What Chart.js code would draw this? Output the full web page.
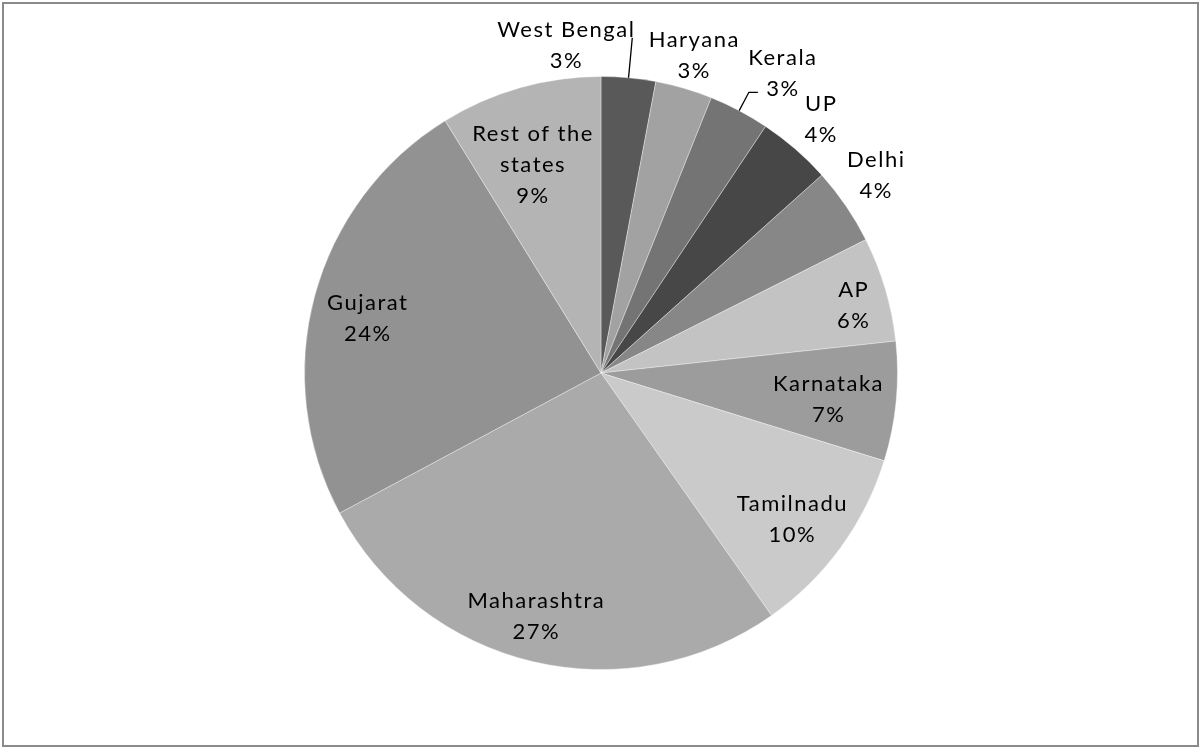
<!DOCTYPE html>
<html>
<head>
<meta charset="utf-8">
<script src="https://cdn.jsdelivr.net/npm/chart.js@4"></script>
<style>
  html, body { margin: 0; padding: 0; background: #fff; }
  #wrap { width: 1200px; height: 747px; }
</style>
</head>
<body>
<div id="wrap"><canvas id="pie" width="1200" height="747"></canvas></div>
<script>
// data (share of total, clockwise from 12 o'clock)
const states = ['West Bengal', 'Haryana', 'Kerala', 'UP', 'Delhi', 'AP', 'Karnataka', 'Tamilnadu', 'Maharashtra', 'Gujarat', 'Rest of the states'];
const shares = [2.96, 3.1, 3.3, 4.0, 4.2, 5.7, 6.5, 10.45, 26.9, 24.0, 8.8];

// label lines as shown (Rest of the states wraps onto two lines)
const labelLines = [['West Bengal'], ['Haryana'], ['Kerala'], ['UP'], ['Delhi'], ['AP'], ['Karnataka'], ['Tamilnadu'], ['Maharashtra'], ['Gujarat'], ['Rest of the', 'states']];

// styling
const sliceColors = ['#595959', '#a2a2a2', '#747474', '#474747', '#878787', '#c3c3c3', '#9c9c9c', '#cacaca', '#aaaaaa', '#929292', '#b4b4b4'];
const labelRadius = [1.112, 1.115, 1.18, 1.13, 1.14, 0.88, 0.77, 0.81, 0.85, 0.81, 0.74];
const labelTurn = [-11.5, 0, 3.4, 0, -1.4, 1.4, 1, 1.4, 1.7, -2, -2.4]; // degrees
const leaderLen = [1.135, 0, 1.07, 0, 0, 0, 0, 0, 0, 0, 0];
const FONT = '22px Lato, "Open Sans", sans-serif';
const SPACING = 1.5;
const LINE_H = 31;

const total = shares.reduce((a, b) => a + b, 0);

const frame = {
    id: 'frame',
    beforeDraw(chart) {
        const ctx = chart.ctx;
        ctx.save();
        ctx.fillStyle = '#fff';
        ctx.fillRect(0, 0, chart.width, chart.height);
        ctx.strokeStyle = '#8a8a8a';
        ctx.lineWidth = 2;
        ctx.strokeRect(3, 3, chart.width - 5, chart.height - 4);
        ctx.restore();
    }
};

const sliceLabels = {
    id: 'sliceLabels',
    afterDatasetsDraw(chart) {
        const ctx = chart.ctx;
        const arcs = chart.getDatasetMeta(0).data;
        ctx.save();
        ctx.font = FONT;
        ctx.letterSpacing = SPACING + 'px';
        ctx.fillStyle = '#000';
        ctx.textAlign = 'center';
        ctx.textBaseline = 'middle';
        arcs.forEach((arc, i) => {
            const r = arc.outerRadius;
            const mid = (arc.startAngle + arc.endAngle) / 2;
            const a = mid + labelTurn[i] * Math.PI / 180;
            const cx = arc.x + Math.cos(a) * r * labelRadius[i];
            const cy = arc.y + Math.sin(a) * r * labelRadius[i];
            const pct = Math.round(shares[i] / total * 100) + '%';
            const lines = labelLines[i].concat([pct]);
            const y0 = cy - (lines.length - 1) * LINE_H / 2;
            lines.forEach((t, k) => ctx.fillText(t, cx + SPACING / 2, y0 + k * LINE_H));

            if (leaderLen[i]) {
                ctx.strokeStyle = '#000';
                ctx.lineWidth = 1.3;
                ctx.beginPath();
                const ex = arc.x + Math.cos(mid) * r;
                const ey = arc.y + Math.sin(mid) * r;
                const kx = arc.x + Math.cos(mid) * r * leaderLen[i];
                const ky = arc.y + Math.sin(mid) * r * leaderLen[i];
                ctx.moveTo(ex, ey);
                ctx.lineTo(kx, ky);
                if (kx < cx - 20) ctx.lineTo(kx + 9, ky);
                ctx.stroke();
            }
        });
        ctx.restore();
    }
};

new Chart(document.getElementById('pie'), {
    type: 'pie',
    data: {
        labels: states,
        datasets: [{
            data: shares,
            backgroundColor: sliceColors,
            borderColor: 'rgba(255,255,255,0.35)',
            borderWidth: 1
        }]
    },
    options: {
        responsive: false,
        animation: false,
        layout: { padding: { left: 304, right: 302, top: 76, bottom: 77 } },
        plugins: { legend: { display: false }, tooltip: { enabled: false } }
    },
    plugins: [frame, sliceLabels]
});
</script>
</body>
</html>
